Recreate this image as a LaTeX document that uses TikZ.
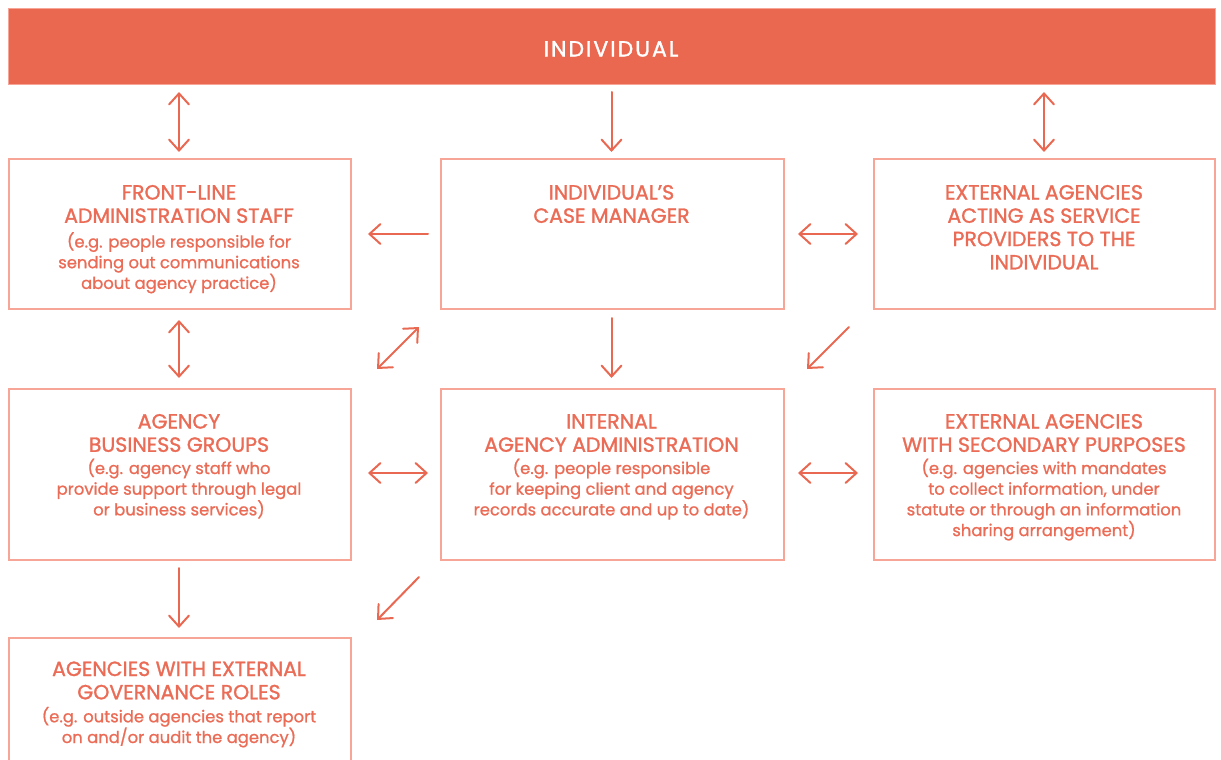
\documentclass[tikz,border=0pt]{standalone}
\usepackage{fontspec}
\setmainfont{Poppins}
\newfontfamily\headfont[FakeBold=1.4]{Poppins}
\newfontfamily\subfont[FakeBold=1.0]{Poppins}
\newfontfamily\bannerfont[FakeBold=1.4,LetterSpace=9]{Poppins}
\usetikzlibrary{arrows.meta}
\definecolor{banner}{RGB}{234,104,80}
\definecolor{ink}{RGB}{234,108,86}
\definecolor{rim}{RGB}{246,165,150}
\definecolor{arr}{RGB}{233,104,82}
\tikzset{
  x=1pt,y=-1pt,
  box/.style={draw=rim,line width=1.5pt,fill=none,inner sep=0pt},
  head/.style={text=ink,font=\headfont\fontsize{20.5}{23.3}\selectfont,align=center,anchor=base,inner sep=0pt},
  sub/.style={text=ink,font=\subfont\fontsize{16.4}{20.7}\selectfont,align=center,anchor=base,inner sep=0pt},
  conn/.style={draw=arr,line width=2pt,line cap=round},
  one/.style={conn,-{Straight Barb[length=11pt,width=20pt,line cap=round]}},
  two/.style={conn,{Straight Barb[length=11pt,width=20pt,line cap=round]}-{Straight Barb[length=11pt,width=20pt,line cap=round]}},
}
\begin{document}
\begin{tikzpicture}
\useasboundingbox (0,0) rectangle (1221,760);
\clip (0,0) rectangle (1221,760);
% banner
\node[fill=banner,draw=rim,line width=0.8pt,minimum width=1207pt,minimum height=76pt,anchor=north west,inner sep=0pt] (ind) at (8,8) {};
\node[text=white,font=\bannerfont\fontsize{22}{26}\selectfont,anchor=base,inner sep=0pt] (indt) at (611,56.5) {INDIVIDUAL};
% boxes
\node[box,minimum width=342pt,minimum height=150pt,anchor=north west] (fl) at (8,158) {};
\node[box,minimum width=343pt,minimum height=150pt,anchor=north west] (cm) at (440,158) {};
\node[box,minimum width=341pt,minimum height=150pt,anchor=north west] (sp) at (873,158) {};
\node[box,minimum width=342pt,minimum height=171pt,anchor=north west] (bg) at (8,388) {};
\node[box,minimum width=343pt,minimum height=171pt,anchor=north west] (ia) at (440,388) {};
\node[box,minimum width=341pt,minimum height=171pt,anchor=north west] (sec) at (873,388) {};
\node[box,minimum width=342pt,minimum height=150pt,anchor=north west] (gov) at (8,637) {};
% texts (anchor base = baseline of the last line)
\node[head] (flh) at (179,222.8) {FRONT-LINE\\ADMINISTRATION STAFF};
\node[sub] (fls) at (179,288.9) {(e.g. people responsible for\\sending out communications\\about agency practice)};
\node[head] (cmh) at (611.5,222.8) {INDIVIDUAL’S\\CASE MANAGER};
\node[head] (sph) at (1044,269.4) {EXTERNAL AGENCIES\\ACTING AS SERVICE\\PROVIDERS TO THE\\INDIVIDUAL};
\node[head] (bgh) at (179,451.8) {AGENCY\\BUSINESS GROUPS};
\node[sub] (bgs) at (179,515.4) {(e.g. agency staff who\\provide support through legal\\or business services)};
\node[head] (iah) at (611.5,451.8) {INTERNAL\\AGENCY ADMINISTRATION};
\node[sub] (ias) at (611.5,515.4) {(e.g. people responsible\\for keeping client and agency\\records accurate and up to date)};
\node[head] (sech) at (1044,451.8) {EXTERNAL AGENCIES\\WITH SECONDARY PURPOSES};
\node[sub] (secs) at (1044,536.1) {(e.g. agencies with mandates\\to collect information, under\\statute or through an information\\sharing arrangement)};
\node[head] (govh) at (179,699.3) {AGENCIES WITH EXTERNAL\\GOVERNANCE ROLES};
\node[sub] (govs) at (179,743) {(e.g. outside agencies that report\\on and/or audit the agency)};
% connectors
\coordinate (a1) at (179,92);  \coordinate (a2) at (179,152);
\coordinate (b1) at (611.5,92);  \coordinate (b2) at (611.5,152);
\coordinate (c1) at (1044,92); \coordinate (c2) at (1044,152);
\coordinate (d1) at (428,234); \coordinate (d2) at (368,234);
\coordinate (e1) at (798,234); \coordinate (e2) at (858,234);
\coordinate (f1) at (179,320); \coordinate (f2) at (179,378);
\coordinate (g1) at (377,369); \coordinate (g2) at (419,327);
\coordinate (h1) at (611.5,318); \coordinate (h2) at (611.5,378);
\coordinate (i1) at (849,327); \coordinate (i2) at (807,369);
\coordinate (j1) at (368,473); \coordinate (j2) at (428,473);
\coordinate (k1) at (798,473); \coordinate (k2) at (858,473);
\coordinate (l1) at (179,568); \coordinate (l2) at (179,628);
\coordinate (m1) at (419,577); \coordinate (m2) at (377,620);
\draw[two] (a1) -- (a2);
\draw[one] (b1) -- (b2);
\draw[two] (c1) -- (c2);
\draw[one] (d1) -- (d2);
\draw[two] (e1) -- (e2);
\draw[two] (f1) -- (f2);
\draw[two] (g1) -- (g2);
\draw[one] (h1) -- (h2);
\draw[one] (i1) -- (i2);
\draw[two] (j1) -- (j2);
\draw[two] (k1) -- (k2);
\draw[one] (l1) -- (l2);
\draw[one] (m1) -- (m2);
\end{tikzpicture}
\end{document}
